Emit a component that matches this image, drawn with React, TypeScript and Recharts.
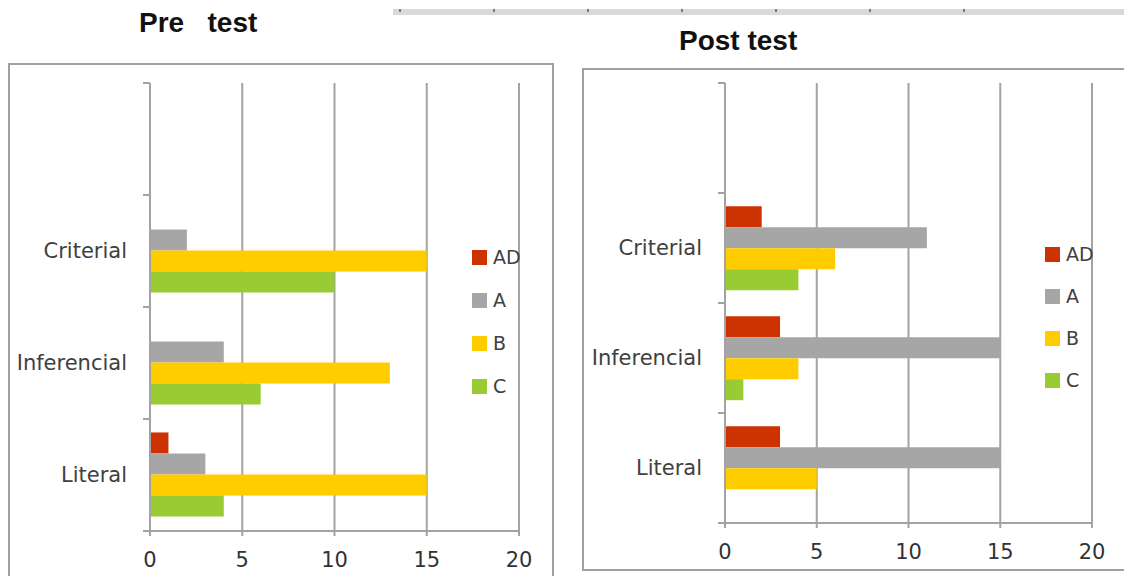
import { Bar, BarChart, CartesianGrid, Legend, XAxis, YAxis } from "recharts";

const categories = ["", "Criterial", "Inferencial", "Literal"];
const levels = ["AD", "A", "B", "C"];
const levelColors = ["#CC3300", "#A6A6A6", "#FFCC00", "#99CC33"];
const xTicks = [0, 5, 10, 15, 20];

const preAD = [null, 0, 0, 1];
const preA = [null, 2, 4, 3];
const preB = [null, 15, 13, 15];
const preC = [null, 10, 6, 4];

const postAD = [null, 2, 3, 3];
const postA = [null, 11, 15, 15];
const postB = [null, 6, 4, 5];
const postC = [null, 4, 1, 0];

const GRID = "#a3a3a3";
const LABEL = "#404040";
const FONT = "DejaVu Sans, Verdana, sans-serif";

function buildRows(ad: (number | null)[], a: (number | null)[], b: (number | null)[], c: (number | null)[]) {
  return categories.map((name, i) => ({ name, AD: ad[i], A: a[i], B: b[i], C: c[i] }));
}

type Frame = {
  left: number;
  top: number;
  width: number;
  height: number;
  margin: { top: number; right: number; bottom: number; left: number };
  yWidth: number;
  xHeight: number;
  tickMargin: number;
  legendLeft: number;
  legendTop: number;
  legendGap: number;
};

function LegendBox({ payload, gap }: any) {
  // keep the series order AD, A, B, C (recharts sorts by name otherwise)
  const items = levels.map((lv) => (payload || []).find((p: any) => p.value === lv)).filter(Boolean);
  return (
    <div style={{ display: "flex", flexDirection: "column", gap: gap - 15 }}>
      {items.map((p: any) => (
        <div key={p.value} style={{ display: "flex", alignItems: "center", height: 15 }}>
          <span style={{ width: 15, height: 15, background: p.color, display: "inline-block" }} />
          <span style={{ marginLeft: 6, fontFamily: FONT, fontSize: 19, color: LABEL, lineHeight: "15px" }}>
            {p.value}
          </span>
        </div>
      ))}
    </div>
  );
}

function TestChart({ rows, frame }: { rows: any[]; frame: Frame }) {
  const plotH = frame.height - frame.margin.top - frame.margin.bottom - frame.xHeight;
  const band = plotH / categories.length;
  const axisX = frame.margin.left + frame.yWidth;

  const renderTick = (props: any) => {
    const { y, payload } = props;
    const idx = typeof props.index === "number" ? props.index : categories.indexOf(payload.value);
    return (
      <g>
        <line x1={axisX - 7} x2={axisX} y1={y - band / 2} y2={y - band / 2} stroke={GRID} strokeWidth={2} />
        {idx === categories.length - 1 && (
          <line x1={axisX - 7} x2={axisX} y1={y + band / 2} y2={y + band / 2} stroke={GRID} strokeWidth={2} />
        )}
        <text x={axisX - 23} y={y} textAnchor="end" dominantBaseline="central" fontFamily={FONT} fontSize={21} fill={LABEL}>
          {payload.value}
        </text>
      </g>
    );
  };

  return (
    <div style={{ position: "absolute", left: frame.left, top: frame.top }}>
      <BarChart
        width={frame.width}
        height={frame.height}
        data={rows}
        layout="vertical"
        margin={frame.margin}
        barCategoryGap="12%"
        barGap={0}
      >
        <CartesianGrid horizontal={false} stroke={GRID} strokeWidth={2} />
        <XAxis
          type="number"
          domain={[0, 20]}
          ticks={xTicks}
          height={frame.xHeight}
          axisLine={{ stroke: GRID, strokeWidth: 2 }}
          tickLine={{ stroke: GRID, strokeWidth: 2 }}
          tickSize={5}
          tickMargin={frame.tickMargin}
          tick={{ fontFamily: FONT, fontSize: 21, fill: "#333" }}
        />
        <YAxis
          type="category"
          dataKey="name"
          width={frame.yWidth}
          interval={0}
          axisLine={{ stroke: GRID, strokeWidth: 2 }}
          tickLine={false}
          tick={renderTick}
        />
        <Legend
          layout="vertical"
          align="center"
          verticalAlign="middle"
          wrapperStyle={{ left: frame.legendLeft, top: frame.legendTop, width: "auto", height: "auto" }}
          content={(p: any) => <LegendBox payload={p.payload} gap={frame.legendGap} />}
        />
        {levels.map((lv, i) => (
          <Bar key={lv} dataKey={lv} fill={levelColors[i]} isAnimationActive={false} />
        ))}
      </BarChart>
    </div>
  );
}

const preFrame: Frame = {
  left: 9,
  top: 64,
  width: 544,
  height: 512,
  margin: { top: 19, right: 34, bottom: 0, left: 0 },
  yWidth: 141,
  xHeight: 45,
  tickMargin: 16,
  legendLeft: 463,
  legendTop: 186,
  legendGap: 43,
};

const postFrame: Frame = {
  left: 583,
  top: 69,
  width: 541,
  height: 507,
  margin: { top: 14, right: 32, bottom: 0, left: 0 },
  yWidth: 142,
  xHeight: 53,
  tickMargin: 16,
  legendLeft: 462,
  legendTop: 178,
  legendGap: 42,
};

export default function App() {
  const preRows = buildRows(preAD, preA, preB, preC);
  const postRows = buildRows(postAD, postA, postB, postC);

  return (
    <div style={{ position: "absolute", left: 0, top: 0, width: 1124, height: 576, overflow: "hidden", background: "#fff" }}>
      {/* strip of the chart above, cut off by the crop */}
      <div style={{ position: "absolute", left: 393, top: 9, width: 731, height: 6, background: "#d9d9d9" }}>
        {Array.from({ length: 7 }).map((_, i) => (
          <div key={i} style={{ position: "absolute", left: 6 + i * 94, top: 0, width: 2, height: 3, background: "#777" }} />
        ))}
      </div>

      <div
        style={{
          position: "absolute",
          left: 139,
          top: 7,
          fontFamily: "Liberation Sans, Arial, sans-serif",
          fontWeight: "bold",
          fontSize: 28,
          color: "#111",
          whiteSpace: "pre",
        }}
      >
        {"Pre   test"}
      </div>
      <div
        style={{
          position: "absolute",
          left: 679,
          top: 25,
          fontFamily: "Liberation Sans, Arial, sans-serif",
          fontWeight: "bold",
          fontSize: 28,
          color: "#111",
          whiteSpace: "pre",
        }}
      >
        Post test
      </div>

      <div style={{ position: "absolute", left: 8, top: 63, width: 546, height: 540, border: "2px solid #a0a0a0", boxSizing: "border-box" }} />
      <div style={{ position: "absolute", left: 582, top: 68, width: 560, height: 503, border: "2px solid #a0a0a0", boxSizing: "border-box" }} />

      <TestChart rows={preRows} frame={preFrame} />
      <TestChart rows={postRows} frame={postFrame} />
    </div>
  );
}
